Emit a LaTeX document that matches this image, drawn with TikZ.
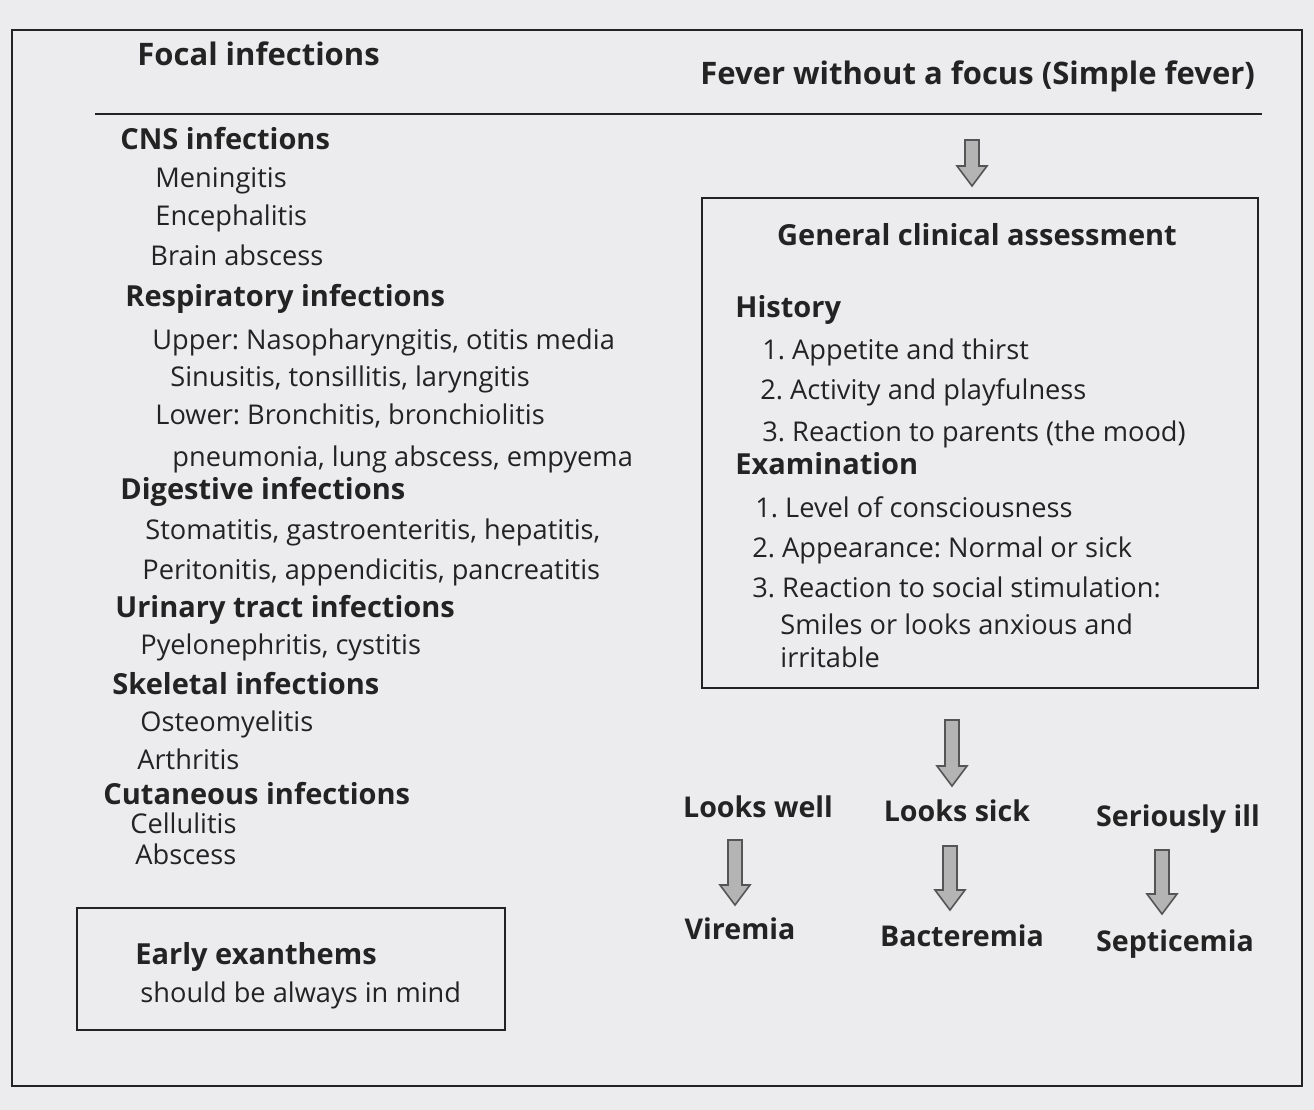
\documentclass[tikz,border=0pt]{standalone}
\usepackage{fontspec}
\setmainfont{Open Sans}
\usetikzlibrary{calc}
\definecolor{paper}{RGB}{236,236,238}
\definecolor{ink}{RGB}{35,35,35}
\definecolor{arrfill}{RGB}{180,180,180}
\definecolor{arredge}{RGB}{85,85,85}
\newcommand{\blockarr}[2]{%
  \path[draw=arredge, fill=arrfill, line width=0.8pt, line join=miter] let \p1=(#1), \p2=(#2) in
  (\x1-3.5pt,\y1) -- (\x1+3.5pt,\y1) -- (\x1+3.5pt,\y2+10pt) -- (\x1+7.5pt,\y2+10pt) -- (\x1,\y2)
  -- (\x1-7.5pt,\y2+10pt) -- (\x1-3.5pt,\y2+10pt) -- cycle;}
\begin{document}
\frenchspacing
\begin{tikzpicture}[x=0.5pt,y=-0.5pt,
  txt/.style={anchor=west, inner sep=0pt, text height=1.6ex, text depth=.45ex, yshift=-1.5pt,
    font=\fontsize{13.6}{15}\selectfont, text=ink},
  hd/.style={txt, font=\fontsize{14.5}{16}\selectfont\bfseries},
  title/.style={txt, font=\fontsize{15.5}{17}\selectfont\bfseries},
  hdc/.style={hd, anchor=center},
  outc/.style={txt, anchor=center, font=\fontsize{14.3}{16}\selectfont\bfseries},
  frame/.style={draw=ink, line width=1.1pt},
  rule/.style={draw=ink, line width=1.3pt}]
\fill[paper] (0,0) rectangle (1314,1110);
\useasboundingbox (0,0) rectangle (1314,1110);
% outer frame
\draw[frame] (12,30) rectangle (1302,1086);
% header
\node[title] (focal) at (137,56) {Focal infections};
\node[title] (fever) at (700,75) {Fever without a focus (Simple fever)};
\draw[rule] (95,114) -- (1262,114);
% left column
\node[hd]  (cns)  at (120,140) {CNS infections};
\node[txt] (l1)   at (155,178) {Meningitis};
\node[txt] (l2)   at (155,216) {Encephalitis};
\node[txt] (l3)   at (150,256) {Brain abscess};
\node[hd]  (resp) at (125,297) {Respiratory infections};
\node[txt] (l4)   at (152,340) {Upper: Nasopharyngitis, otitis media};
\node[txt] (l5)   at (170,377) {Sinusitis, tonsillitis, laryngitis};
\node[txt] (l6)   at (155,415) {Lower: Bronchitis, bronchiolitis};
\node[txt] (l7)   at (172,457) {pneumonia, lung abscess, empyema};
\node[hd]  (dig)  at (120,490) {Digestive infections};
\node[txt] (l8)   at (145,530) {Stomatitis, gastroenteritis, hepatitis,};
\node[txt] (l9)   at (142,570) {Peritonitis, appendicitis, pancreatitis};
\node[hd]  (uri)  at (115,608) {Urinary tract infections};
\node[txt] (l10)  at (140,645) {Pyelonephritis, cystitis};
\node[hd]  (skel) at (112,685) {Skeletal infections};
\node[txt] (l11)  at (140,722) {Osteomyelitis};
\node[txt] (l12)  at (137,760) {Arthritis};
\node[hd]  (cut)  at (103,795) {Cutaneous infections};
\node[txt] (l13)  at (130,824) {Cellulitis};
\node[txt] (l14)  at (135,855) {Abscess};
% early exanthems box
\draw[frame] (77,908) rectangle (505,1030);
\node[hd]  (early)  at (135,955) {Early exanthems};
\node[txt] (early2) at (140,993) {should be always in mind};
% general clinical assessment box
\draw[frame] (702,198) rectangle (1258,688);
\node[hdc] (gca)  at (977,236) {General clinical assessment};
\node[hd]  (hist) at (735,308) {History};
\node[txt] (h1)   at (762,350) {1. Appetite and thirst};
\node[txt] (h2)   at (760,390) {2. Activity and playfulness};
\node[txt] (h3)   at (762,432) {3. Reaction to parents (the mood)};
\node[hd]  (exam) at (735,465) {Examination};
\node[txt] (e1)   at (755,508) {1. Level of consciousness};
\node[txt] (e2)   at (752,548) {2. Appearance: Normal or sick};
\node[txt] (e3)   at (752,588) {3. Reaction to social stimulation:};
\node[txt] (e4)   at (780,625) {Smiles or looks anxious and};
\node[txt] (e5)   at (780,658) {irritable};
% outcomes
\node[outc] (well) at (758,808) {Looks well};
\node[outc] (sick) at (957,812) {Looks sick};
\node[outc] (ill)  at (1178,817) {Seriously ill};
\node[outc] (vir)  at (740,930) {Viremia};
\node[outc] (bac)  at (962,937) {Bacteremia};
\node[outc] (sep)  at (1175,942) {Septicemia};
% arrows
\coordinate (a0s) at (972,140); \coordinate (a0e) at (972,186);
\coordinate (a1s) at (952,720); \coordinate (a1e) at (952,786);
\coordinate (a2s) at (735,840); \coordinate (a2e) at (735,905);
\coordinate (a3s) at (950,846); \coordinate (a3e) at (950,910);
\coordinate (a4s) at (1162,850); \coordinate (a4e) at (1162,914);
\blockarr{a0s}{a0e}
\blockarr{a1s}{a1e}
\blockarr{a2s}{a2e}
\blockarr{a3s}{a3e}
\blockarr{a4s}{a4e}
\end{tikzpicture}
\end{document}
